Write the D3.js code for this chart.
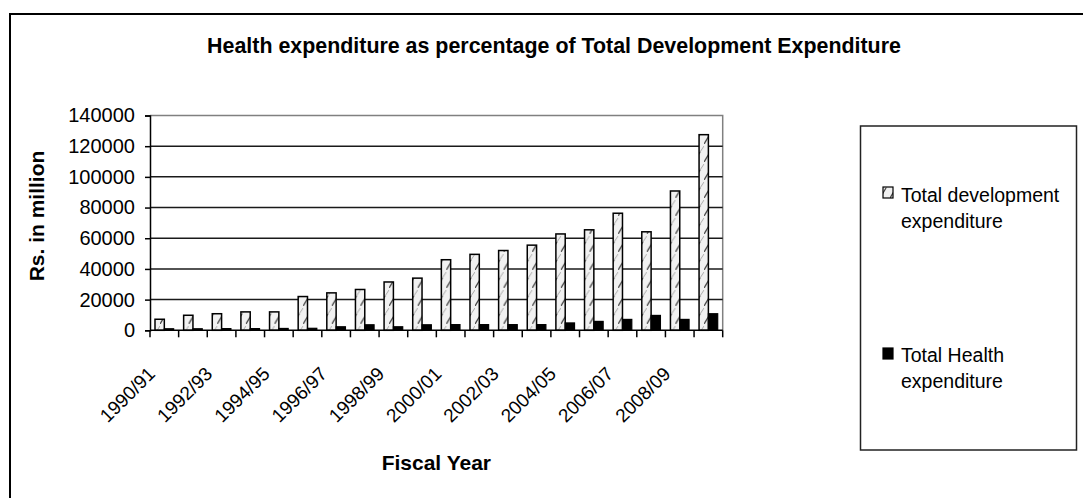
<!DOCTYPE html>
<html>
<head>
<meta charset="utf-8">
<script src="https://cdn.jsdelivr.net/npm/d3@7"></script>
<style>
  html, body { margin: 0; padding: 0; background: #fff; }
  svg { display: block; }
  text { font-family: "Liberation Sans", Arial, sans-serif; fill: #000; }
</style>
</head>
<body>
<svg id="chart" width="1083" height="498"></svg>
<script>
// ---- data ----
const categories = ["1990/91","1991/92","1992/93","1993/94","1994/95","1995/96","1996/97","1997/98","1998/99","1999/00",
                    "2000/01","2001/02","2002/03","2003/04","2004/05","2005/06","2006/07","2007/08","2008/09","2009/10"];
const tickLabels = ["1990/91","1992/93","1994/95","1996/97","1998/99","2000/01","2002/03","2004/05","2006/07","2008/09"];
const devExpenditure = [7200, 9800, 10800, 12000, 12000, 22000, 24400, 26600, 31500, 34000,
                        46000, 49500, 52000, 55500, 62800, 65500, 76300, 64200, 90800, 127500];
const healthExpenditure = [1000, 1000, 1100, 1100, 1200, 1300, 2300, 3600, 2300, 3600,
                           3700, 3700, 3700, 3700, 4800, 5800, 7100, 9700, 7100, 10800];
const yTicks = [0, 20000, 40000, 60000, 80000, 100000, 120000, 140000];
const seriesNames = ["Total development expenditure", "Total Health expenditure"];
const titleText = "Health expenditure as percentage of Total Development Expenditure";

// ---- layout ----
const svg = d3.select("#chart");
const plot = { left: 150, right: 722.7, top: 115.5, bottom: 330.3 };

// outer frame
svg.append("rect").attr("x", 10).attr("y", 14).attr("width", 1100).attr("height", 500)
  .attr("fill", "#fff").attr("stroke", "#000").attr("stroke-width", 2);

// pattern for development bars
const defs = svg.append("defs");
const pat = defs.append("pattern").attr("id", "hatch").attr("patternUnits", "userSpaceOnUse")
  .attr("width", 10).attr("height", 18);
pat.append("rect").attr("width", 10).attr("height", 18).attr("fill", "#f1f1f1");
pat.append("path").attr("d", "M0,18 L6,8").attr("stroke", "#444").attr("stroke-width", 1.3).attr("fill", "none");
pat.append("path").attr("d", "M6,8 L10,2").attr("stroke", "#aaa").attr("stroke-width", 1).attr("fill", "none");

const x0 = d3.scaleBand().domain(categories).range([plot.left, plot.right]).padding(0);
const x1 = d3.scaleBand().domain(seriesNames).range([5, x0.bandwidth() - 5]).padding(0);
const y = d3.scaleLinear().domain([0, 140000]).range([plot.bottom, plot.top]);

// plot border (top & right gray)
svg.append("path")
  .attr("d", `M${plot.left},${plot.top} H${plot.right} V${plot.bottom}`)
  .attr("fill", "none").attr("stroke", "#808080").attr("stroke-width", 1.5);

// gridlines
svg.append("g").selectAll("line").data(yTicks.filter(v => v > 0 && v < 140000)).join("line")
  .attr("x1", plot.left).attr("x2", plot.right)
  .attr("y1", d => y(d)).attr("y2", d => y(d))
  .attr("stroke", "#1a1a1a").attr("stroke-width", 1.5);

// bars
const groups = svg.append("g").selectAll("g").data(categories).join("g")
  .attr("transform", d => `translate(${x0(d)},0)`);
groups.append("rect")
  .attr("x", x1(seriesNames[0])).attr("width", x1.bandwidth())
  .attr("y", (d, i) => y(devExpenditure[i]))
  .attr("height", (d, i) => y(0) - y(devExpenditure[i]))
  .attr("fill", "url(#hatch)").attr("stroke", "#000").attr("stroke-width", 1.5);
groups.append("rect")
  .attr("x", x1(seriesNames[1])).attr("width", x1.bandwidth())
  .attr("y", (d, i) => y(healthExpenditure[i]))
  .attr("height", (d, i) => y(0) - y(healthExpenditure[i]))
  .attr("fill", "#000").attr("stroke", "#000").attr("stroke-width", 1.2);

// y axis
const yAxis = svg.append("g").attr("transform", `translate(${plot.left},0)`)
  .call(d3.axisLeft(y).tickValues(yTicks).tickFormat(d3.format("d")).tickSize(5).tickPadding(10));
yAxis.select(".domain").attr("stroke", "#000").attr("stroke-width", 1.5);
yAxis.selectAll(".tick line").attr("stroke", "#000").attr("stroke-width", 1.5);
yAxis.selectAll("text").style("font-size", "20px").attr("fill", "#000")
  .style("font-family", "'Liberation Sans', Arial, sans-serif");

// x axis: line and ticks at category boundaries
const xAxis = svg.append("g");
xAxis.append("line").attr("x1", plot.left).attr("x2", plot.right)
  .attr("y1", plot.bottom).attr("y2", plot.bottom).attr("stroke", "#000").attr("stroke-width", 1.5);
const boundaries = categories.map(c => x0(c)).concat([x0(categories[categories.length - 1]) + x0.bandwidth()]);
xAxis.selectAll("line.tk").data(boundaries).join("line").attr("class", "tk")
  .attr("x1", d => d).attr("x2", d => d).attr("y1", plot.bottom).attr("y2", plot.bottom + 7)
  .attr("stroke", "#000").attr("stroke-width", 1.5);
xAxis.selectAll("text").data(tickLabels).join("text")
  .attr("transform", d => `translate(${x0(d) + x0.bandwidth() / 2 - 8},375) rotate(-45)`)
  .attr("text-anchor", "end").style("font-size", "19px").text(d => d);

// title
svg.append("text").attr("x", 554).attr("y", 53).attr("text-anchor", "middle")
  .style("font-size", "21.4px").style("font-weight", "bold").text(titleText);

// axis titles
svg.append("text").attr("x", (plot.left + plot.right) / 2).attr("y", 470).attr("text-anchor", "middle")
  .style("font-size", "21px").style("font-weight", "bold").text("Fiscal Year");
svg.append("text").attr("transform", `translate(44,216) rotate(-90)`).attr("text-anchor", "middle")
  .style("font-size", "21px").style("font-weight", "bold").text("Rs. in million");

// legend
const lg = svg.append("g");
lg.append("rect").attr("x", 860.5).attr("y", 126).attr("width", 216).attr("height", 324)
  .attr("fill", "#fff").attr("stroke", "#222").attr("stroke-width", 1.5);
const legendItems = [
  { lines: ["Total development", "expenditure"], fill: "url(#hatch)", top: 187, base: 201.7 },
  { lines: ["Total Health", "expenditure"], fill: "#000", top: 348, base: 361.7 }
];
legendItems.forEach(it => {
  lg.append("rect").attr("x", 883).attr("y", it.top).attr("width", 10).attr("height", 11)
    .attr("fill", it.fill).attr("stroke", "#000").attr("stroke-width", 1.2);
  it.lines.forEach((ln, k) => {
    lg.append("text").attr("x", 901).attr("y", it.base + k * 26.6)
      .style("font-size", "19.5px").text(ln);
  });
});
</script>
</body>
</html>
